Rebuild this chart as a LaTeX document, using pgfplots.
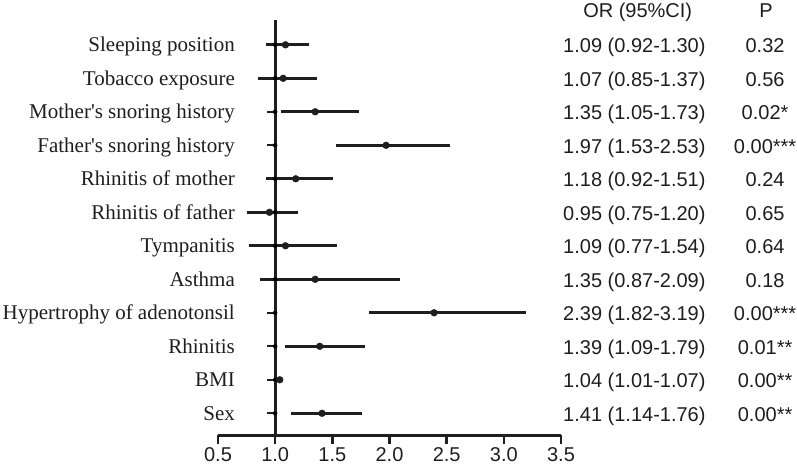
\documentclass[border=0pt]{standalone}
\usepackage{pgfplots}
\usepackage{pgfplotstable}
\pgfplotsset{compat=1.18}
\usepackage{fontspec}
\setmainfont{Liberation Serif}
\setsansfont{Liberation Sans}
\definecolor{ink}{HTML}{1E1E1E}

\newcommand{\apos}{\textquotesingle}

% row: 12 = top line, 1 = bottom line
\pgfplotstableread{
row or   lo   hi   label                           ci                    p
12  1.09 0.92 1.30 {Sleeping position}             {1.09 (0.92-1.30)}    0.32
11  1.07 0.85 1.37 {Tobacco exposure}              {1.07 (0.85-1.37)}    0.56
10  1.35 1.05 1.73 {Mother\apos s snoring history} {1.35 (1.05-1.73)}    0.02*
9   1.97 1.53 2.53 {Father\apos s snoring history} {1.97 (1.53-2.53)}    0.00***
8   1.18 0.92 1.51 {Rhinitis of mother}            {1.18 (0.92-1.51)}    0.24
7   0.95 0.75 1.20 {Rhinitis of father}            {0.95 (0.75-1.20)}    0.65
6   1.09 0.77 1.54 {Tympanitis}                    {1.09 (0.77-1.54)}    0.64
5   1.35 0.87 2.09 {Asthma}                        {1.35 (0.87-2.09)}    0.18
4   2.39 1.82 3.19 {Hypertrophy of adenotonsil}    {2.39 (1.82-3.19)}    0.00***
3   1.39 1.09 1.79 {Rhinitis}                      {1.39 (1.09-1.79)}    0.01**
2   1.04 1.01 1.07 {BMI}                           {1.04 (1.01-1.07)}    0.00**
1   1.41 1.14 1.76 {Sex}                           {1.41 (1.14-1.76)}    0.00**
}\forest

\newcommand{\serifsize}{\fontsize{21}{25}\selectfont\rmfamily}
\newcommand{\sanssize}{\fontsize{20}{24}\selectfont\sffamily}

\begin{document}
\begin{tikzpicture}
\useasboundingbox (0,0) rectangle (797pt,472pt);
\begin{axis}[
    at={(218pt,37pt)}, anchor=south west,
    scale only axis,
    width=343pt, height=415pt,
    xmin=0.5, xmax=3.5,
    ymin=0.352, ymax=12.74,
    axis x line*=bottom,
    axis y line=none,
    x axis line style={-, line width=3pt, ink},
    xtick={0.5,1,1.5,2,2.5,3,3.5},
    xticklabels={0.5,1.0,1.5,2.0,2.5,3.0,3.5},
    xticklabel style={font=\sanssize, text=ink},
    tick align=outside,
    major tick length=9pt,
    xtick style={line width=2.5pt, ink},
    clip=false,
]

% reference line at OR = 1
\addplot[ink, line width=3pt] coordinates {(1,0.352) (1,12.74)};

% small row ticks left of the reference line
\addplot[only marks, mark=none, forget plot,
    error bars/.cd, x dir=minus, x fixed=0.075, error mark=none,
    error bar style={line width=2.4pt, ink}]
    table[x expr=1, y=row] {\forest};

% odds ratios with 95% CI
\addplot[only marks, mark=*, mark size=3.4pt, ink,
    error bars/.cd, x dir=both, x explicit, error mark=none,
    error bar style={line width=3.4pt, ink}]
    table[x=or, y=row,
          x error plus expr=\thisrow{hi}-\thisrow{or},
          x error minus expr=\thisrow{or}-\thisrow{lo}] {\forest};

% row labels
\addplot[only marks, mark=none, point meta=explicit symbolic,
    nodes near coords,
    every node near coord/.append style={anchor=base east, yshift=-7pt,
        inner sep=0pt, font=\serifsize, text=ink}]
    table[x expr=0.649, y=row, meta=label] {\forest};

% OR (95%CI) column
\addplot[only marks, mark=none, point meta=explicit symbolic,
    nodes near coords,
    every node near coord/.append style={anchor=base east, yshift=-8pt,
        inner sep=0pt, font=\sanssize, text=ink}]
    table[x expr=4.766, y=row, meta=ci] {\forest};

% P column (centred)
\addplot[only marks, mark=none, point meta=explicit symbolic,
    nodes near coords,
    every node near coord/.append style={anchor=base, yshift=-8pt,
        inner sep=0pt, font=\sanssize, text=ink}]
    table[x expr=5.285, y=row, meta=p] {\forest};

\node[anchor=base, inner sep=0pt, font=\sanssize, text=ink] at (axis cs:4.171,12.8) {OR (95\%CI)};
\node[anchor=base, inner sep=0pt, font=\sanssize, text=ink] at (axis cs:5.294,12.8) {P};

\end{axis}
\end{tikzpicture}
\end{document}
